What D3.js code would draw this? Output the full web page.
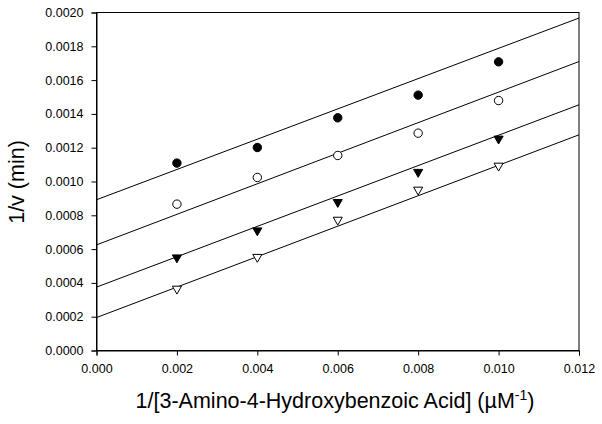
<!DOCTYPE html>
<html>
<head>
<meta charset="utf-8">
<script src="https://cdn.jsdelivr.net/npm/d3@7"></script>
<style>
    body { margin: 0; background: #fff; }
    text { font-family: "Liberation Sans", Arial, sans-serif; }
</style>
</head>
<body>
<div id="chart"></div>
<script>
// x values (1/[substrate], uM^-1)
const xValues = [0.002, 0.004, 0.006, 0.008, 0.010];

// 1/v readings for each series
const filledCircle = [0.001109, 0.001201, 0.001377, 0.001511, 0.001708];
const openCircle = [0.000866, 0.001024, 0.001154, 0.001286, 0.001479];
const filledTriangle = [0.000550, 0.000710, 0.000878, 0.001056, 0.001253];
const openTriangle = [0.000365, 0.000553, 0.000773, 0.000951, 0.001093];

// fitted lines: y = intercept + slope * x
const lineIntercepts = [0.000892, 0.000625, 0.000375, 0.000195];
const lineSlopes = [0.0896, 0.0904, 0.0899, 0.0901];

const xTicks = [0, 0.002, 0.004, 0.006, 0.008, 0.010, 0.012];
const yTicks = [0, 0.0002, 0.0004, 0.0006, 0.0008, 0.0010, 0.0012, 0.0014, 0.0016, 0.0018, 0.0020];

const series = [
    {values: filledCircle, shape: 'circle', fill: '#000'},
    {values: openCircle, shape: 'circle', fill: '#fff'},
    {values: filledTriangle, shape: 'triangle', fill: '#000'},
    {values: openTriangle, shape: 'triangle', fill: '#fff'}
];

const W = 602, H = 424;
const margin = {top: 12.5, right: 23, bottom: 73.5, left: 96.5};
const width = W - margin.left - margin.right;
const height = H - margin.top - margin.bottom;

const svg = d3.select('#chart')
    .append('svg')
    .attr('width', W)
    .attr('height', H);

const g = svg.append('g')
    .attr('transform', `translate(${margin.left}, ${margin.top})`);

const x = d3.scaleLinear().domain([0, 0.012]).range([0, width]);
const y = d3.scaleLinear().domain([0, 0.002]).range([height, 0]);

// frame
g.append('rect')
    .attr('width', width)
    .attr('height', height)
    .attr('fill', 'none')
    .attr('stroke', '#000')
    .attr('stroke-width', 1);

const xAxis = g.append('g')
    .attr('transform', `translate(0, ${height})`)
    .call(d3.axisBottom(x).tickValues(xTicks).tickFormat(d3.format('.3f')).tickSizeOuter(0).tickSize(5).tickPadding(9));
const yAxis = g.append('g')
    .call(d3.axisLeft(y).tickValues(yTicks).tickFormat(d3.format('.4f')).tickSizeOuter(0).tickSize(5).tickPadding(8));

[xAxis, yAxis].forEach(a => {
    a.select('.domain').attr('stroke', '#000');
    a.selectAll('line').attr('stroke', '#000');
    a.selectAll('text')
        .attr('fill', '#000')
        .style('font-size', '12.5px')
        .style('font-family', '"Liberation Sans", Arial, sans-serif');
});

// regression lines
lineIntercepts.forEach((b, i) => {
    const m = lineSlopes[i];
    g.append('line')
        .attr('x1', x(0))
        .attr('y1', y(b))
        .attr('x2', x(0.012))
        .attr('y2', y(b + m * 0.012))
        .attr('stroke', '#000')
        .attr('stroke-width', 1);
});

// markers
const tri = d3.symbol().type(d3.symbolTriangle).size(36);
series.forEach(s => {
    const pts = xValues.map((xv, i) => ({x: xv, y: s.values[i]}));
    if (s.shape === 'circle') {
        g.selectAll(null)
            .data(pts)
            .enter()
            .append('circle')
            .attr('cx', d => x(d.x))
            .attr('cy', d => y(d.y))
            .attr('r', 4.2)
            .attr('fill', s.fill)
            .attr('stroke', '#000')
            .attr('stroke-width', 1);
    } else {
        g.selectAll(null)
            .data(pts)
            .enter()
            .append('path')
            .attr('d', tri)
            .attr('transform', d => `translate(${x(d.x)}, ${y(d.y)}) rotate(180)`)
            .attr('fill', s.fill)
            .attr('stroke', '#000')
            .attr('stroke-width', 1);
    }
});

// axis labels
svg.append('text')
    .attr('text-anchor', 'middle')
    .attr('transform', `translate(24, 182) rotate(-90)`)
    .style('font-size', '21.5px')
    .text('1/v (min)');

const xl = svg.append('text')
    .attr('text-anchor', 'middle')
    .attr('x', 335)
    .attr('y', 408)
    .style('font-size', '21.5px');
xl.append('tspan').text('1/[3-Amino-4-Hydroxybenzoic Acid] (\u00b5M');
xl.append('tspan').attr('dy', -8).style('font-size', '14px').text('-1');
xl.append('tspan').attr('dy', 8).text(')');
</script>
</body>
</html>
